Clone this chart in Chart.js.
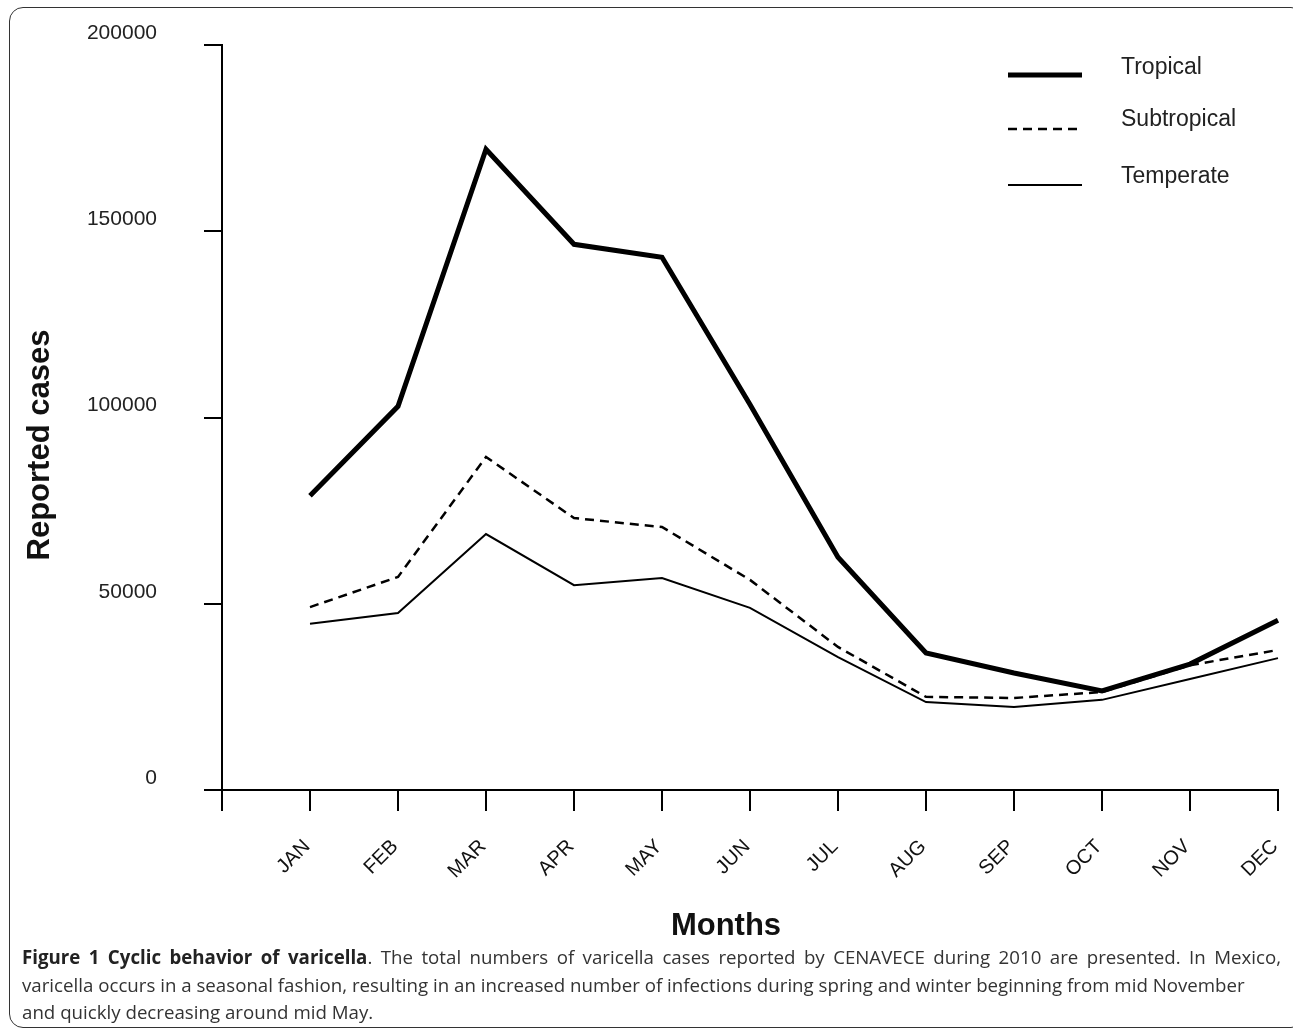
<!DOCTYPE html>
<html>
<head>
<meta charset="utf-8">
<script src="https://cdn.jsdelivr.net/npm/chart.js@4.4.0/dist/chart.umd.min.js"></script>
<style>
  body { margin: 0; background: #fff; }
  #wrap { position: relative; width: 1293px; height: 1034px; overflow: hidden; }
  #frame {
    position: absolute; left: 9px; top: 7px; width: 1296px; height: 1021px;
    border: 1.5px solid #333; border-radius: 14px; box-sizing: border-box;
  }
  #chart { position: absolute; left: 0; top: 0; }
  #caption {
    position: absolute; left: 22px; top: 943px; width: 1259px; white-space: nowrap;
    font-family: "Open Sans", sans-serif; font-size: 18.7px; line-height: 27.5px; color: #333;
  }
  #caption .first { text-align: justify; text-align-last: justify; white-space: normal; }
  #caption b { color: #222; }
</style>
</head>
<body>
<div id="wrap">
  <div id="frame"></div>
  <canvas id="chart" width="1293" height="945"></canvas>
  <div id="caption">
    <div class="first"><b>Figure 1 Cyclic behavior of varicella</b>. The total numbers of varicella cases reported by CENAVECE during 2010 are presented. In Mexico,</div>
    <div>varicella occurs in a seasonal fashion, resulting in an increased number of infections during spring and winter beginning from mid November</div>
    <div>and quickly decreasing around mid May.</div>
  </div>
</div>
<script>
// months on the x axis (first slot is the empty origin tick)
const months = ["JAN", "FEB", "MAR", "APR", "MAY", "JUN", "JUL", "AUG", "SEP", "OCT", "NOV", "DEC"];

// reported cases per month
const tropical = [79000, 103000, 172000, 146500, 143000, 103500, 62500, 36800, 31400, 26600, 33800, 45600];
const subtropical = [49100, 57200, 89400, 73000, 70600, 56400, 38400, 25000, 24700, 26300, 33500, 37600];
const temperate = [44600, 47500, 68700, 55000, 56900, 48900, 35700, 23600, 22300, 24200, 29800, 35400];

const yTicks = [0, 50000, 100000, 150000, 200000];

const FONT = "'Liberation Sans', Arial, sans-serif";

// legend drawn inside the plot, top right, like the original
const legendPlugin = {
  id: "insideLegend",
  afterDatasetsDraw(chart) {
    const ctx = chart.ctx;
    const rows = [75, 129, 185];
    const textRows = [68, 120, 177];
    chart.data.datasets.forEach((ds, i) => {
      ctx.save();
      ctx.strokeStyle = ds.borderColor;
      ctx.lineWidth = ds.borderWidth;
      ctx.setLineDash(ds.borderDash || []);
      ctx.beginPath();
      ctx.moveTo(1008, rows[i]);
      ctx.lineTo(1082, rows[i]);
      ctx.stroke();
      ctx.setLineDash([]);
      ctx.fillStyle = "#222";
      ctx.font = "23px " + FONT;
      ctx.textBaseline = "middle";
      ctx.textAlign = "left";
      ctx.fillText(ds.label, 1121, textRows[i]);
      ctx.restore();
    });
  }
};

// axis titles placed where the figure has them
const titlesPlugin = {
  id: "axisTitles",
  afterDraw(chart) {
    const ctx = chart.ctx;
    ctx.save();
    ctx.fillStyle = "#111";
    ctx.font = "bold 31px " + FONT;
    ctx.textAlign = "center";
    ctx.textBaseline = "middle";
    ctx.fillText("Months", 726, 926);
    ctx.translate(40, 445);
    ctx.rotate(-Math.PI / 2);
    ctx.fillText("Reported cases", 0, 0);
    ctx.restore();
  }
};

new Chart(document.getElementById("chart"), {
  type: "line",
  data: {
    labels: [""].concat(months),
    datasets: [
      {
        label: "Tropical",
        data: [null].concat(tropical),
        borderColor: "#000",
        borderWidth: 5,
        pointRadius: 0,
        tension: 0
      },
      {
        label: "Subtropical",
        data: [null].concat(subtropical),
        borderColor: "#000",
        borderWidth: 2.5,
        borderDash: [9, 6],
        pointRadius: 0,
        tension: 0
      },
      {
        label: "Temperate",
        data: [null].concat(temperate),
        borderColor: "#000",
        borderWidth: 2,
        pointRadius: 0,
        tension: 0
      }
    ]
  },
  options: {
    responsive: false,
    animation: false,
    devicePixelRatio: 1,
    layout: { padding: { top: 45, right: 15, left: 0, bottom: 0 } },
    plugins: {
      legend: { display: false },
      tooltip: { enabled: false }
    },
    scales: {
      x: {
        offset: false,
        grid: { drawOnChartArea: false, color: "#000", lineWidth: 2, tickLength: 21 },
        border: { color: "#000", width: 2 },
        ticks: {
          autoSkip: false,
          maxRotation: 45,
          minRotation: 45,
          padding: 24,
          labelOffset: -3,
          color: "#111",
          font: { family: FONT, size: 20 }
        },
        afterFit(scale) {
          scale.height = 155;
          scale.paddingLeft = 0;
          scale.paddingRight = 0;
        }
      },
      y: {
        min: 0,
        max: 200000,
        afterBuildTicks(scale) { scale.ticks = yTicks.map(v => ({ value: v })); },
        grid: { drawOnChartArea: false, color: "#000", lineWidth: 2, tickLength: 18 },
        border: { color: "#000", width: 2 },
        ticks: {
          padding: 47,
          labelOffset: -12,
          color: "#222",
          font: { family: FONT, size: 21 },
          callback: v => String(v)
        },
        afterFit(scale) {
          scale.width = 222;
          scale.paddingTop = 0;
          scale.paddingBottom = 0;
        }
      }
    }
  },
  plugins: [legendPlugin, titlesPlugin]
});
</script>
</body>
</html>
